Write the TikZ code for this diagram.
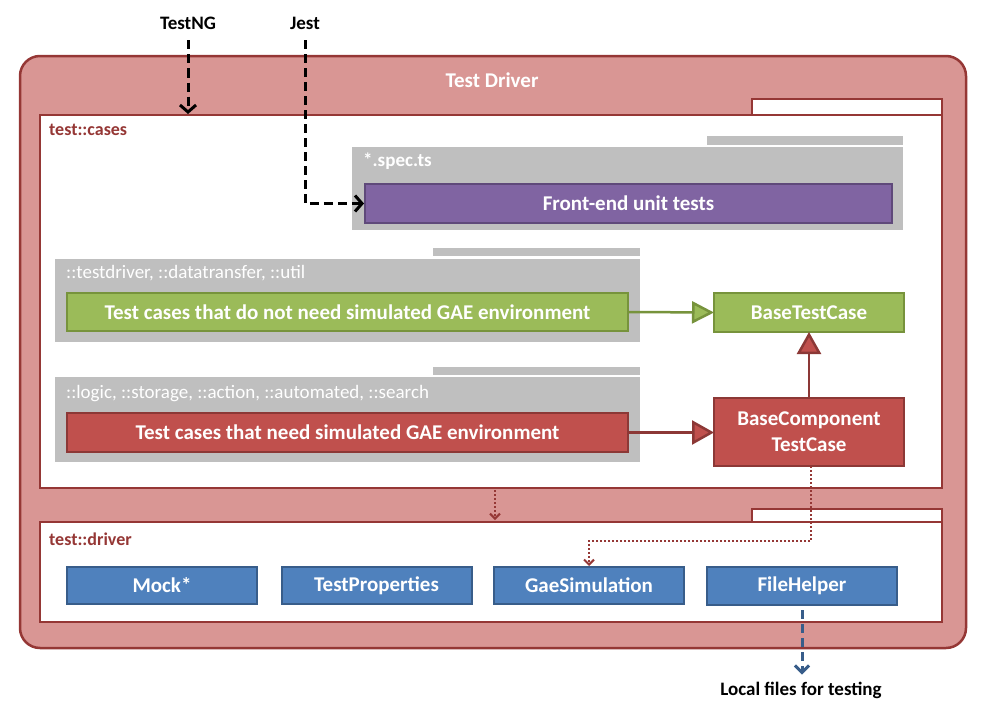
\documentclass[tikz,border=0pt]{standalone}
\usepackage{fontspec}
\setmainfont{Carlito}
\usetikzlibrary{arrows.meta}
\definecolor{drfill}{HTML}{D99694}
\definecolor{drline}{HTML}{953735}
\definecolor{pkg}{HTML}{BFBFBF}
\definecolor{purfill}{HTML}{8064A2}
\definecolor{purline}{HTML}{5F497A}
\definecolor{grfill}{HTML}{9BBB59}
\definecolor{grline}{HTML}{77933C}
\definecolor{rdfill}{HTML}{C0504D}
\definecolor{rdline}{HTML}{8C3836}
\definecolor{blfill}{HTML}{4F81BD}
\definecolor{blline}{HTML}{385D8A}
\begin{document}
\begin{tikzpicture}[x=1pt,y=-1pt,
  box/.style={rectangle, inner sep=0pt, outer sep=0pt},
  frame/.style={box, draw=drline, line width=2.5pt, fill=white},
  pkgbody/.style={box, fill=pkg},
  cls/.style={box, line width=2.5pt, text=white, align=center, font=\bfseries\fontsize{21}{26}\selectfont},
  purplebox/.style={cls, fill=purfill, draw=purline},
  greenbox/.style={cls, fill=grfill, draw=grline},
  redbox/.style={cls, fill=rdfill, draw=rdline},
  bluebox/.style={cls, fill=blfill, draw=blline, line width=2pt},
  pkglabel/.style={anchor=west, text=white, inner sep=0pt, font=\fontsize{19}{22}\selectfont},
  framelabel/.style={anchor=west, text=drline, inner sep=0pt, font=\bfseries\fontsize{18}{21}\selectfont},
  extlabel/.style={text=black, inner sep=0pt, font=\bfseries\fontsize{19}{22}\selectfont},
  blk/.style={draw=black, line width=3pt, dash pattern=on 9pt off 5pt, -{Straight Barb[length=7pt,width=16pt,line width=3pt]}},
  dotarrow/.style={draw=drline, line width=2pt, dash pattern=on 2pt off 2pt, -{Straight Barb[length=5pt,width=10pt,line width=2pt]}},
  blarrow/.style={draw=blline, line width=3pt, dash pattern=on 9pt off 5pt, -{Straight Barb[length=7pt,width=14pt,line width=3pt]}},
  grarrow/.style={draw=grline, line width=2.5pt, -{Triangle[length=22pt,width=22pt,fill=grfill]}},
  rdarrow/.style={draw=rdline, line width=2.5pt, -{Triangle[length=22pt,width=24pt,fill=rdfill]}},
]
\useasboundingbox (0,0) rectangle (1002,720);

% outer
\node[box, draw=drline, fill=drfill, line width=2.5pt, rounded corners=20pt, minimum width=946pt, minimum height=592pt] (outer) at (493,352) {};
\node[text=white, font=\bfseries\fontsize{21}{24}\selectfont] (tdlabel) at (492,80) {Test Driver};

% test::cases frame
\node[frame, minimum width=190pt, minimum height=16pt] (casestab) at (847,107) {};
\node[frame, minimum width=902pt, minimum height=373pt] (cases) at (491,301.5) {};
\node[framelabel] (caseslabel) at (49,130) {test::cases};

% spec package
\node[pkgbody, minimum width=196pt, minimum height=9pt] (spectab) at (805,140.5) {};
\node[pkgbody, minimum width=551pt, minimum height=83pt] (specpkg) at (627.5,188.5) {};
\node[pkglabel, font=\bfseries\fontsize{19}{22}\selectfont] (speclabel) at (363,161) {*.spec.ts};
\node[purplebox, minimum width=527pt, minimum height=39pt] (fe) at (628.5,203.5) {Front-end unit tests};

% package 2
\node[pkgbody, minimum width=207pt, minimum height=8pt] (p2tab) at (536.5,252) {};
\node[pkgbody, minimum width=585pt, minimum height=83pt] (p2) at (347.5,300.5) {};
\node[pkglabel] (p2label) at (66,273) {::testdriver, ::datatransfer, ::util};
\node[greenbox, minimum width=561pt, minimum height=38pt] (green) at (347.5,312) {Test cases that do not need simulated GAE environment};

% package 3
\node[pkgbody, minimum width=207pt, minimum height=8pt] (p3tab) at (536.5,370.5) {};
\node[pkgbody, minimum width=585pt, minimum height=85pt] (p3) at (347.5,419.5) {};
\node[pkglabel] (p3label) at (66,394) {::logic, ::storage, ::action, ::automated, ::search};
\node[redbox, minimum width=561pt, minimum height=39pt] (red) at (347.5,432.5) {Test cases that need simulated GAE environment};

% base classes
\node[greenbox, minimum width=190pt, minimum height=39pt] (btc) at (809,312.5) {BaseTestCase};
\node[redbox, minimum width=190pt, minimum height=68pt] (bctc) at (809,432) {BaseComponent\\TestCase};

% test::driver frame
\node[frame, minimum width=190pt, minimum height=13pt] (drivertab) at (847,515.5) {};
\node[frame, minimum width=902pt, minimum height=100pt] (driver) at (491,572) {};
\node[framelabel] (driverlabel) at (49,539) {test::driver};

\node[bluebox, minimum width=190pt, minimum height=37pt] (mock) at (162,585.5) {Mock*};
\node[bluebox, minimum width=190pt, minimum height=37pt] (tprops) at (376.5,585.5) {TestProperties};
\node[bluebox, minimum width=190pt, minimum height=37pt] (gae) at (589,585.5) {GaeSimulation};
\node[bluebox, minimum width=190pt, minimum height=38pt] (fh) at (802,586) {FileHelper};

% external labels
\node[extlabel] (testng) at (188,23) {TestNG};
\node[extlabel] (jest) at (305,23) {Jest};
\node[extlabel] (local) at (801,690) {Local files for testing};

% connectors
\draw[blk, shorten <=11pt, shorten >=1pt] (testng.south) -- (testng.south |- cases.north);
\draw[blk, shorten <=11pt, shorten >=1pt] (jest.south) |- (fe.west);
\draw[grarrow] (green.east) -- (btc.west);
\draw[rdarrow] (red.east) -- (red.east -| bctc.west);
\draw[rdarrow] (bctc.north) -- (btc.south);
\draw[dotarrow, shorten <=2pt, shorten >=2pt] ([xshift=4pt]cases.south) -- ([xshift=4pt]cases.south |- drivertab.south);
\draw[dotarrow, shorten >=1pt] ([xshift=2pt]bctc.south) -- ++(0,75) -| (gae.north);
\draw[blarrow, shorten <=5pt, shorten >=7pt] (fh.south) -- (fh.south |- local.north);
\end{tikzpicture}
\end{document}
